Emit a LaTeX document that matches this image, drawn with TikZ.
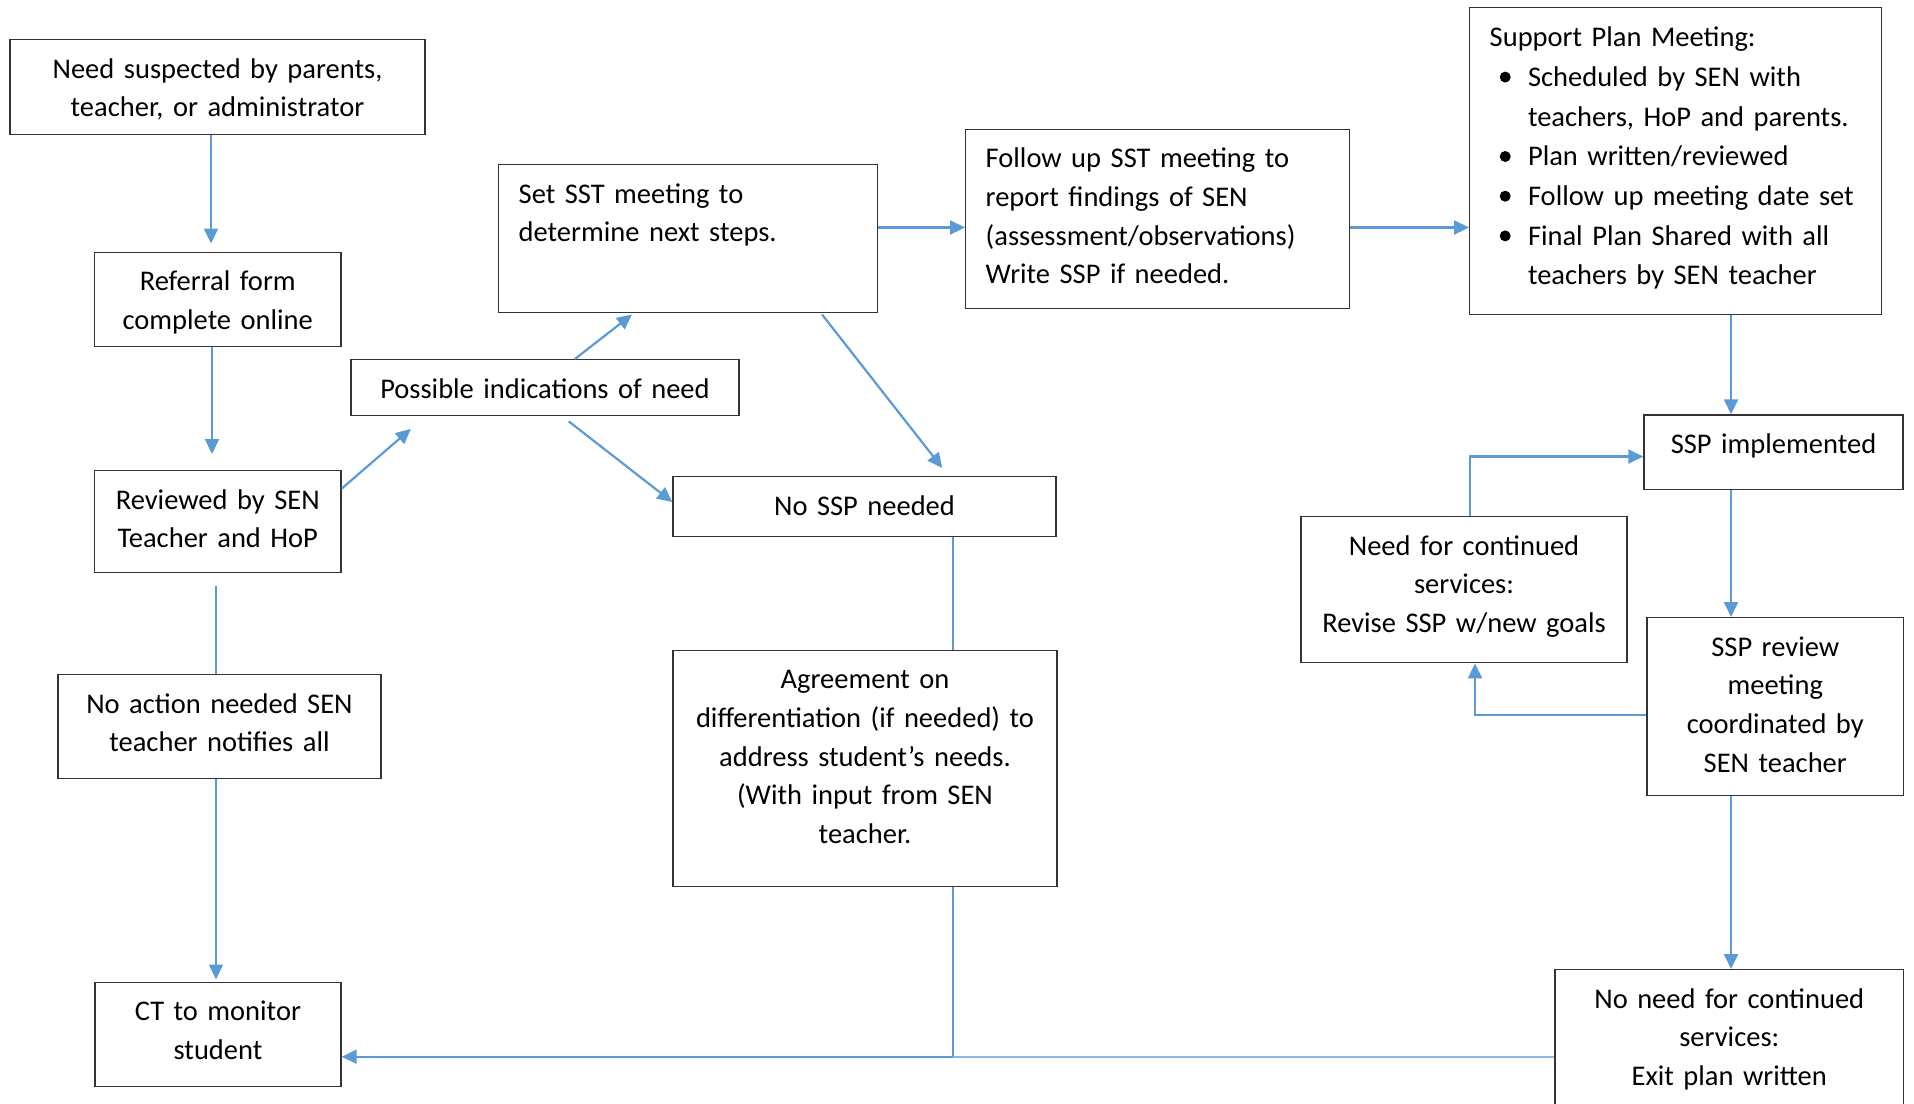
\documentclass[tikz,border=0pt]{standalone}
\usepackage{fontspec}
\setmainfont{Carlito}
\usetikzlibrary{arrows.meta,calc}
\definecolor{linkblue}{HTML}{5B9BD5}
\definecolor{paleblue}{HTML}{8DB9E5}
\definecolor{boxline}{HTML}{333333}
\newcommand{\planbullet}{\makebox[19.15pt][l]{\hspace{5pt}\raisebox{1.9pt}{\tikz\fill (0,0) circle (2.75pt);}}}
\newcommand{\planindent}{\hspace*{19.15pt}}

\begin{document}
\begin{tikzpicture}[%
      x=0.5pt, y=-0.5pt,
      box/.style={draw=boxline, line width=0.7pt, inner sep=0pt, anchor=north,
        align=center, text height=19.3pt, font=\fontsize{14.25pt}{19.3pt}\selectfont},
      leftbox/.style={box, anchor=north west, align=left, inner xsep=10pt},
      link/.style={draw=linkblue, line width=1.1pt, -{Triangle[length=7.5pt,width=7pt]}},
      plainlink/.style={draw=linkblue, line width=1.1pt},
      palelink/.style={draw=paleblue, line width=0.8pt},
      ]
      \useasboundingbox (0,0) rectangle (1914,1103);

      \node[box, text width=207.5pt, text depth=27.95pt] (need) at (217.5,39) {Need suspected by parents,\\teacher, or administrator};
      \node[box, text width=123.25pt, text depth=27.95pt] (referral) at (217.75,251.5) {Referral form\\complete online};
      \node[box, text width=123.25pt, text depth=31.45pt] (reviewed) at (217.75,470) {Reviewed by SEN\\Teacher and HoP};
      \node[box, text width=161.5pt, text depth=32.7pt] (noaction) at (219.5,674) {No action needed SEN\\teacher notifies all};
      \node[box, text width=123pt, text depth=32.7pt] (ct) at (218,981.5) {CT to monitor\\student};
      \node[box, text width=194pt, text depth=8.7pt] (possible) at (545,359) {Possible indications of need};
      \node[leftbox, text width=169.5pt, text depth=54.45pt] (setsst) at (498,164) {Set SST meeting to\\determine next steps.};
      \node[box, text width=191.5pt, text depth=10.7pt] (nossp) at (864.5,475.7) {No SSP needed};
      \node[box, text width=192pt, text depth=98.95pt] (agreement) at (865,649.5) {Agreement on\\differentiation (if needed) to\\address student’s needs.\\(With input from SEN\\teacher.};
      \node[leftbox, text width=172pt, text depth=70.45pt] (followup) at (965,128.5) {Follow up SST meeting to\\report findings of SEN\\(assessment/observations)\\Write SSP if needed.};
      \node[leftbox, text width=186pt, text height=19.5pt, text depth=133.75pt,
        font=\fontsize{14.25pt}{19.85pt}\selectfont] (support) at (1469,7) {Support Plan Meeting:\\
        \planbullet Scheduled by SEN with\\
        \planindent teachers, HoP and parents.\\
        \planbullet Plan written/reviewed\\
        \planbullet Follow up meeting date set\\
        \planbullet Final Plan Shared with all\\
        \planindent teachers by SEN teacher};
      \node[box, text width=129.5pt, text depth=17.95pt] (sspimpl) at (1773.5,414.3) {SSP implemented};
      \node[box, text width=163pt, text depth=53.7pt] (needcont) at (1464,516) {Need for continued\\services:\\Revise SSP w/new goals};
      \node[box, text width=128.25pt, text depth=69.7pt] (review) at (1775.25,617) {SSP review\\meeting\\coordinated by\\SEN teacher};
      \node[box, text width=174.25pt, text depth=52.2pt] (noneed) at (1729.25,969) {No need for continued\\services:\\Exit plan written};

      \coordinate (spine) at (1731,0);
      \coordinate (join) at (952.6,1056.7);

      \draw[link, shorten >=4pt] ($(need.south)+(-6.5,0)$) -- ($(referral.north)+(-6.75,0)$);
      \draw[link, shorten >=8pt] ($(referral.south)+(-5.75,0)$) -- ($(reviewed.north)+(-5.75,0)$);
      \draw[link] ($(reviewed.north east)+(0,18.6)$) -- ($(possible.south west)+(60.5,12.5)$);
      \draw[link] ($(possible.north west)+(224.6,0)$) -- ($(setsst.south west)+(134,1.6)$);
      \draw[link] ($(possible.south west)+(218.5,5)$) -- ($(nossp.north west)+(0,26.3)$);
      \draw[link] ($(setsst.south west)+(324,1.6)$) -- ($(nossp.north west)+(270,-7.7)$);
      \draw[link] ($(setsst.north east)+(0,63.5)$) -- ($(followup.north west)+(0,99)$);
      \draw[link] ($(followup.north east)+(0,99)$) -- ($(support.north west)+(0,220.5)$);

      \draw[link] (support.south -| spine) -- (sspimpl.north -| spine);
      \draw[link] (sspimpl.south -| spine) -- (review.north -| spine);
      \draw[link] (review.south -| spine) -- (noneed.north -| spine);
      \draw[link] ($(review.west)+(0,8)$) -| ($(needcont.south)+(11,0)$);
      \draw[link] ($(needcont.north)+(6,0)$) |- ($(sspimpl.west)+(0,4.3)$);

      \draw[plainlink] ($(reviewed.south)+(-1.75,13)$) -- ($(noaction.north)+(-3.5,0)$);
      \draw[link, shorten >=1pt] ($(noaction.south)+(-3.5,0)$) -- ($(ct.north)+(-2,0)$);
      \draw[plainlink] ($(nossp.south)+(88.1,0)$) -- ($(agreement.north)+(87.6,0)$);
      \draw[link] ($(agreement.south)+(87.6,0)$) -- (join) -- (join -| ct.east);
      \draw[palelink] (noneed.west |- join) -- (join);
      \end{tikzpicture}
\end{document}
